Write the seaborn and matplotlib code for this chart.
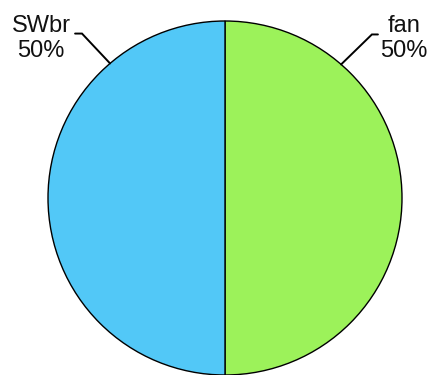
import numpy as np
import matplotlib
matplotlib.use("Agg")
import matplotlib.pyplot as plt
import seaborn as sns

# Share of each group
labels = ["fan", "SWbr"]
values = [50, 50]
colors = ["#9CF25A", "#52C8F7"]

sns.set_style("white")
plt.rcParams["font.family"] = ["Liberation Sans", "DejaVu Sans"]

fig = plt.figure(figsize=(4.29, 3.75), dpi=100)
ax = fig.add_axes([48 / 429, 0.0, 354 / 429, 354 / 375])

wedges, _ = ax.pie(
    values,
    colors=colors,
    startangle=90,
    counterclock=False,
    radius=1.0,
    wedgeprops=dict(edgecolor="black", linewidth=1.0),
)
ax.set_xlim(-1.0, 1.0)
ax.set_ylim(-1.0, 1.0)
ax.set_aspect("equal")
ax.axis("off")

# label layout per side: (attach angle, elbow x, end x, elbow y, text x)
layout = {
    "fan": (49.0, 0.83, 0.864, 0.924, 1.011),
    "SWbr": (130.5, -0.808, -0.847, 0.929, -1.04),
}

total = sum(values)
for lab, val in zip(labels, values):
    a, ex, endx, ey, tx = layout[lab]
    ang = np.deg2rad(a)
    x0, y0 = np.cos(ang), np.sin(ang)
    ax.plot([x0, ex, endx], [y0, ey, ey],
            color="black", lw=1.4, clip_on=False, solid_joinstyle="miter")
    ax.text(tx, 0.9, f"{lab}\n{val / total * 100:.0f}%",
            ha="center", va="center", fontsize=17, linespacing=1.15,
            color="#111111", clip_on=False)

fig.savefig("out.png", dpi=100, facecolor="white")
